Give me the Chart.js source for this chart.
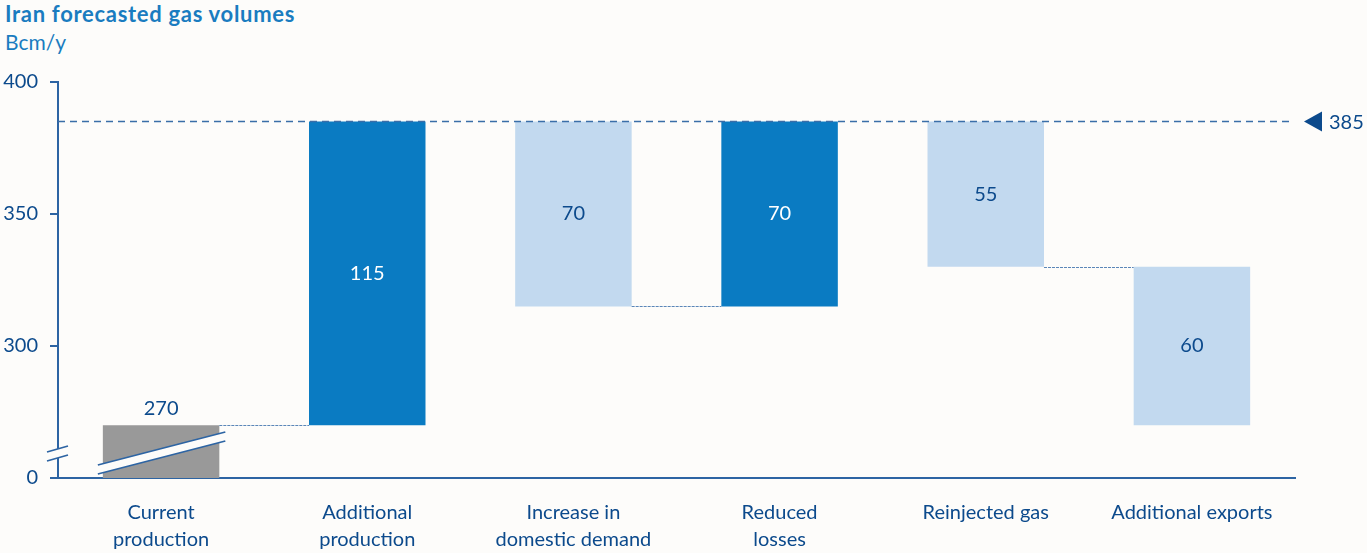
<!DOCTYPE html>
<html>
<head>
<meta charset="utf-8">
<title>Iran forecasted gas volumes</title>
<script src="https://cdn.jsdelivr.net/npm/chart.js@4.4.1/dist/chart.umd.min.js"></script>
<style>
  html, body { margin: 0; padding: 0; background: #fdfcfa; }
  #wrap { position: relative; width: 1367px; height: 553px; font-family: Lato, "Open Sans", sans-serif; }
  #titulo { position: absolute; left: 5px; top: 0px; font-size: 22px; font-weight: bold; letter-spacing: 0.7px; color: #1a7cc0; }
  #unidad { position: absolute; left: 5px; top: 29px; font-size: 21px; color: #1a7cc0; }
  canvas { position: absolute; left: 0; top: 0; }
</style>
</head>
<body>
<div id="wrap">
  <div id="titulo">Iran forecasted gas volumes</div>
  <div id="unidad">Bcm/y</div>
  <canvas id="grafico-gas" width="1367" height="553"></canvas>
</div>
<script>
// Categorías y pasos de la cascada (Bcm/y)
const categorias = [
  ['Current', 'production'],
  ['Additional', 'production'],
  ['Increase in', 'domestic demand'],
  ['Reduced', 'losses'],
  ['Reinjected gas'],
  ['Additional exports']
];
const pasos = [270, 115, -70, 70, -55, -60];
const volumenObjetivo = [385];

// Eje Y con corte: el 250 se rotula como 0
const ticksY = [250, 300, 350, 400];
const etiquetasY = ['0', '300', '350', '400'];

const AZUL_OSCURO = '#0a7bc2';
const AZUL_CLARO = '#c2d9ef';
const GRIS = '#999999';
const TEXTO = '#0c4a8c';
const LINEA = '#2d64a3';
const FUENTE = 'Lato, "Open Sans", sans-serif';

// Convertimos los pasos en barras flotantes [desde, hasta]
function construirCascada(valores, base) {
  const barras = [];
  let acumulado = 0;
  valores.forEach((v, i) => {
    if (i === 0) {
      barras.push([base, v]);
      acumulado = v;
    } else {
      const siguiente = acumulado + v;
      barras.push([Math.min(acumulado, siguiente), Math.max(acumulado, siguiente)]);
      acumulado = siguiente;
    }
  });
  return barras;
}

const barras = construirCascada(pasos, ticksY[0]);
const colores = pasos.map((v, i) => i === 0 ? GRIS : (v > 0 ? AZUL_OSCURO : AZUL_CLARO));

// Niveles de las líneas punteadas entre barras
function nivelesConexion(valores) {
  const niveles = [];
  let acumulado = 0;
  valores.forEach((v, i) => {
    acumulado += v;
    if (i < valores.length - 1) niveles.push(acumulado);
  });
  return niveles;
}

const pluginDecoracion = {
  id: 'decoracion',
  afterDatasetsDraw(chart) {
    const { ctx, chartArea, scales } = chart;
    const y = scales.y;
    const meta = chart.getDatasetMeta(0);
    const niveles = nivelesConexion(pasos);

    ctx.save();

    // Conectores entre barras
    ctx.strokeStyle = '#5a86b8';
    ctx.lineWidth = 1;
    ctx.setLineDash([3, 1]);
    niveles.forEach((nivel, i) => {
      if (nivel === volumenObjetivo[0]) return;
      const a = meta.data[i], b = meta.data[i + 1];
      const py = Math.round(y.getPixelForValue(nivel)) + 0.5;
      ctx.beginPath();
      ctx.moveTo(a.x + a.width / 2, py);
      ctx.lineTo(b.x - b.width / 2, py);
      ctx.stroke();
    });

    // Línea del volumen total
    const yObj = y.getPixelForValue(volumenObjetivo[0]);
    ctx.strokeStyle = '#3a6ea8';
    ctx.lineWidth = 1.5;
    ctx.setLineDash([7, 5]);
    ctx.beginPath();
    ctx.moveTo(chartArea.left, yObj);
    ctx.lineTo(chartArea.right - 4, yObj);
    ctx.stroke();
    ctx.setLineDash([]);

    // Triángulo y valor a la derecha
    ctx.fillStyle = '#0c4a8c';
    ctx.beginPath();
    ctx.moveTo(chartArea.right + 9, yObj);
    ctx.lineTo(chartArea.right + 27, yObj - 10);
    ctx.lineTo(chartArea.right + 27, yObj + 10);
    ctx.closePath();
    ctx.fill();
    ctx.fillStyle = TEXTO;
    ctx.font = '20px ' + FUENTE;
    ctx.textAlign = 'left';
    ctx.textBaseline = 'middle';
    ctx.fillText(String(volumenObjetivo[0]), chartArea.right + 34, yObj + 1);

    // Corte en la barra gris
    const g = meta.data[0];
    const iz = g.x - g.width / 2 - 5, de = g.x + g.width / 2 + 6;
    const fondo = chartArea.bottom;
    ctx.fillStyle = '#fdfcfa';
    ctx.beginPath();
    ctx.moveTo(iz, fondo - 13);
    ctx.lineTo(de, fondo - 46);
    ctx.lineTo(de, fondo - 37);
    ctx.lineTo(iz, fondo - 4);
    ctx.closePath();
    ctx.fill();
    ctx.strokeStyle = LINEA;
    ctx.lineWidth = 1.8;
    ctx.beginPath();
    ctx.moveTo(iz, fondo - 13); ctx.lineTo(de, fondo - 46);
    ctx.moveTo(iz, fondo - 4); ctx.lineTo(de, fondo - 37);
    ctx.stroke();

    // Corte en el eje Y
    const ex = chartArea.left;
    ctx.fillStyle = '#fdfcfa';
    ctx.beginPath();
    ctx.moveTo(ex - 11, fondo - 26);
    ctx.lineTo(ex + 10, fondo - 32);
    ctx.lineTo(ex + 10, fondo - 23);
    ctx.lineTo(ex - 11, fondo - 17);
    ctx.closePath();
    ctx.fill();
    ctx.beginPath();
    ctx.moveTo(ex - 11, fondo - 26); ctx.lineTo(ex + 10, fondo - 32);
    ctx.moveTo(ex - 11, fondo - 17); ctx.lineTo(ex + 10, fondo - 23);
    ctx.stroke();

    // Valores de cada barra
    ctx.font = '20px ' + FUENTE;
    ctx.textAlign = 'center';
    ctx.textBaseline = 'middle';
    meta.data.forEach((barra, i) => {
      const [desde, hasta] = barras[i];
      const texto = String(Math.abs(pasos[i]));
      if (i === 0) {
        ctx.fillStyle = TEXTO;
        ctx.fillText(texto, barra.x, y.getPixelForValue(hasta) - 17);
      } else {
        ctx.fillStyle = pasos[i] > 0 ? '#ffffff' : TEXTO;
        ctx.fillText(texto, barra.x, y.getPixelForValue((desde + hasta) / 2));
      }
    });

    ctx.restore();
  }
};

const ctx = document.getElementById('grafico-gas').getContext('2d');
new Chart(ctx, {
  type: 'bar',
  data: {
    labels: categorias,
    datasets: [{
      data: barras,
      backgroundColor: colores,
      borderWidth: 0,
      barPercentage: 0.565,
      categoryPercentage: 1
    }]
  },
  options: {
    responsive: false,
    animation: false,
    layout: { padding: { top: 82, right: 72, left: 0, bottom: 0 } },
    plugins: {
      legend: { display: false },
      tooltip: { enabled: false }
    },
    scales: {
      x: {
        grid: { display: false },
        border: { display: true, color: LINEA, width: 2 },
        ticks: {
          color: TEXTO,
          font: { family: FUENTE, size: 20, lineHeight: 1.35 },
          padding: 13,
          maxRotation: 0,
          autoSkip: false
        },
        afterFit(scale) { scale.height = 75; }
      },
      y: {
        min: ticksY[0],
        max: ticksY[ticksY.length - 1],
        grid: { drawOnChartArea: false, drawTicks: true, tickLength: 8, color: LINEA, lineWidth: 2 },
        border: { display: true, color: LINEA, width: 2 },
        afterBuildTicks(scale) { scale.ticks = ticksY.map(v => ({ value: v })); },
        ticks: {
          color: TEXTO,
          font: { family: FUENTE, size: 20 },
          padding: 12,
          callback: (v) => etiquetasY[ticksY.indexOf(v)]
        },
        afterFit(scale) { scale.width = 58; }
      }
    }
  },
  plugins: [pluginDecoracion]
});
</script>
</body>
</html>
